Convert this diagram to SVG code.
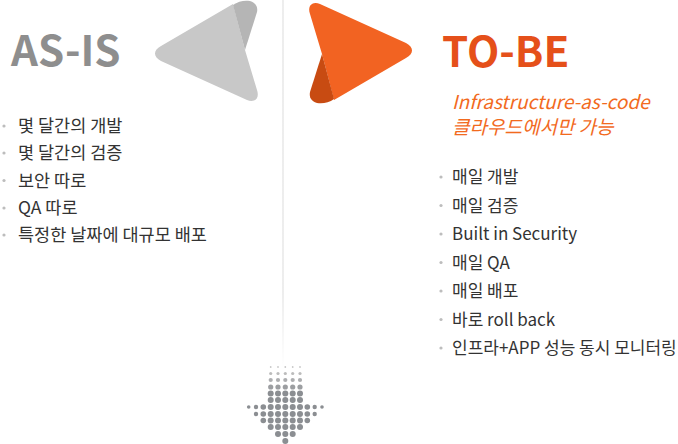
<svg xmlns="http://www.w3.org/2000/svg" width="678" height="444" viewBox="0 0 678 444">
<style>
.title{font-family:"Noto Sans CJK KR","Noto Sans",sans-serif;font-weight:700;font-size:42px}
.item{font-family:"Noto Sans CJK KR","Noto Sans",sans-serif;font-size:17px;fill:#333}
.left{font-size:17.5px}
.sub{font-family:"Noto Sans CJK KR","Noto Sans",sans-serif;font-size:19px;font-style:italic;fill:#f26a1e}
.bul{fill:#bdbdbd}
.d{fill:#8b8e92}
</style>
<defs>
<linearGradient id="lineG" x1="0" y1="0" x2="0" y2="1">
<stop offset="0" stop-color="#dcdcdc"/>
<stop offset="0.8" stop-color="#dcdcdc"/>
<stop offset="1" stop-color="#dcdcdc" stop-opacity="0"/>
</linearGradient>
<path id="mainShape" d="M310,14 C307,5 313,1 320,4 L406,43 C414,47 414,54 406,58 L334,100 L322,54 Z"/>
<path id="finShape" d="M322,54 L334,99 C329,103 322,104 317,103 C311,101 309,97 310,92 Z"/>
</defs>
<rect width="678" height="444" fill="#fff"/>
<g id="divider"><rect x="282.5" y="0" width="1" height="368" fill="url(#lineG)"/></g>
<g id="asis">
<g transform="rotate(180 283.5 52)">
<use href="#mainShape" fill="#c8c8c8"/>
<use href="#finShape" fill="#b5b5b5"/>
</g>
<text class="title" x="11" y="66" fill="#8e8e8e">AS-IS</text>
<g id="asis-list">
<circle class="bul" cx="4" cy="126" r="1.6"/><text class="item left" x="18" y="132">몇 달간의 개발</text>
<circle class="bul" cx="4" cy="153" r="1.6"/><text class="item left" x="18" y="159">몇 달간의 검증</text>
<circle class="bul" cx="4" cy="180.5" r="1.6"/><text class="item left" x="18" y="186.5">보안 따로</text>
<circle class="bul" cx="4" cy="208" r="1.6"/><text class="item left" x="18" y="214">QA 따로</text>
<circle class="bul" cx="4" cy="235" r="1.6"/><text class="item left" x="18" y="241">특정한 날짜에 대규모 배포</text>
</g>
</g>
<g id="tobe">
<use href="#mainShape" fill="#f26322"/>
<use href="#finShape" fill="#c84b12"/>
<text class="title" x="442" y="67" fill="#e5501a">TO-BE</text>
<text class="sub" x="452" y="109">Infrastructure-as-code</text>
<text class="sub" x="452" y="134">클라우드에서만 가능</text>
<g id="tobe-list">
<circle class="bul" cx="441" cy="177" r="1.6"/><text class="item" x="452" y="183">매일 개발</text>
<circle class="bul" cx="441" cy="205.5" r="1.6"/><text class="item" x="452" y="211.5">매일 검증</text>
<circle class="bul" cx="441" cy="234" r="1.6"/><text class="item" x="452" y="240">Built in Security</text>
<circle class="bul" cx="441" cy="262.5" r="1.6"/><text class="item" x="452" y="268.5">매일 QA</text>
<circle class="bul" cx="441" cy="291" r="1.6"/><text class="item" x="452" y="297">매일 배포</text>
<circle class="bul" cx="441" cy="319.5" r="1.6"/><text class="item" x="452" y="325.5">바로 roll back</text>
<circle class="bul" cx="441" cy="348" r="1.6"/><text class="item" x="452" y="354">인프라+APP 성능 동시 모니터링</text>
</g>
</g>
<g id="dot-arrow">
<g fill="#c8c8c8"><circle cx="270.7" cy="367" r="0.9"/><circle cx="278" cy="367" r="0.9"/><circle cx="285.3" cy="367" r="0.9"/><circle cx="292.7" cy="367" r="0.9"/><circle cx="300" cy="367" r="0.9"/></g>
<g fill="#bcbcbc"><circle cx="270.7" cy="373.5" r="1.6"/><circle cx="278" cy="373.5" r="1.6"/><circle cx="285.3" cy="373.5" r="1.6"/><circle cx="292.7" cy="373.5" r="1.6"/><circle cx="300" cy="373.5" r="1.6"/></g>
<g fill="#adaeb0"><circle cx="270.7" cy="380" r="2.1"/><circle cx="278" cy="380" r="2.1"/><circle cx="285.3" cy="380" r="2.1"/><circle cx="292.7" cy="380" r="2.1"/><circle cx="300" cy="380" r="2.1"/></g>
<g fill="#9c9ea1"><circle cx="270.7" cy="387" r="2.6"/><circle cx="278" cy="387" r="2.6"/><circle cx="285.3" cy="387" r="2.6"/><circle cx="292.7" cy="387" r="2.6"/><circle cx="300" cy="387" r="2.6"/></g>
<g class="d"><circle cx="270.7" cy="393.5" r="3"/><circle cx="278" cy="393.5" r="3"/><circle cx="285.3" cy="393.5" r="3"/><circle cx="292.7" cy="393.5" r="3"/><circle cx="300" cy="393.5" r="3"/></g>
<g class="d"><circle cx="270.7" cy="400" r="3"/><circle cx="278" cy="400" r="3"/><circle cx="285.3" cy="400" r="3"/><circle cx="292.7" cy="400" r="3"/><circle cx="300" cy="400" r="3"/></g>
<g class="d"><circle cx="248.7" cy="407" r="1.8"/><circle cx="256" cy="407" r="2.2"/><circle cx="263.3" cy="407" r="2.8"/><circle cx="270.7" cy="407" r="3"/><circle cx="278" cy="407" r="3"/><circle cx="285.3" cy="407" r="3"/><circle cx="292.7" cy="407" r="3"/><circle cx="300" cy="407" r="3"/><circle cx="307.3" cy="407" r="2.8"/><circle cx="314.7" cy="407" r="2.2"/><circle cx="322" cy="407" r="1.8"/></g>
<g class="d"><circle cx="256" cy="414" r="2.2"/><circle cx="263.3" cy="414" r="2.8"/><circle cx="270.7" cy="414" r="3"/><circle cx="278" cy="414" r="3"/><circle cx="285.3" cy="414" r="3"/><circle cx="292.7" cy="414" r="3"/><circle cx="300" cy="414" r="3"/><circle cx="307.3" cy="414" r="2.8"/><circle cx="314.7" cy="414" r="2.2"/></g>
<g class="d"><circle cx="263.3" cy="420.5" r="2.8"/><circle cx="270.7" cy="420.5" r="3"/><circle cx="278" cy="420.5" r="3"/><circle cx="285.3" cy="420.5" r="3"/><circle cx="292.7" cy="420.5" r="3"/><circle cx="300" cy="420.5" r="3"/><circle cx="307.3" cy="420.5" r="2.8"/></g>
<g class="d"><circle cx="270.7" cy="427" r="3"/><circle cx="278" cy="427" r="3"/><circle cx="285.3" cy="427" r="3"/><circle cx="292.7" cy="427" r="3"/><circle cx="300" cy="427" r="3"/></g>
<g class="d"><circle cx="278" cy="434" r="3"/><circle cx="285.3" cy="434" r="3"/><circle cx="292.7" cy="434" r="3"/></g>
<g class="d"><circle cx="285.3" cy="441" r="3"/></g>
</g>
</svg>
